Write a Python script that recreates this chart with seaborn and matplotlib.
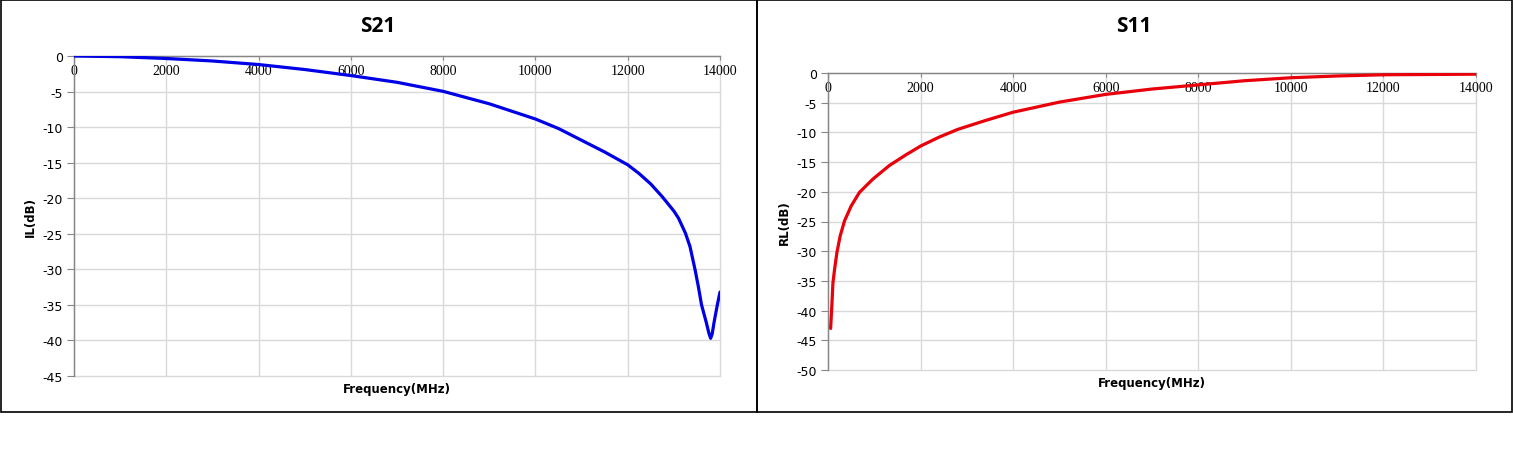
import pandas as pd
import seaborn as sns
import matplotlib.pyplot as plt
from matplotlib.patches import Rectangle

# ---------------- datos ----------------
s21_freq = [0, 1000, 2000, 3000, 4000, 5000, 6000, 7000, 8000, 9000, 10000,
            10500, 11000, 11500, 12000, 12250, 12500, 12750, 12900, 13000,
            13100, 13250, 13350, 13458, 13530, 13600, 13700, 13760, 13797,
            13830, 13870, 13942, 14000]
s21_db = [0, -0.1, -0.35, -0.7, -1.2, -1.9, -2.75, -3.7, -4.97, -6.72, -8.86,
          -10.2, -11.85, -13.5, -15.3, -16.55, -18.0, -19.8, -21.0, -21.8,
          -22.8, -24.9, -26.8, -30.0, -32.4, -35.0, -37.4, -39.0, -39.7,
          -39.1, -37.5, -35.0, -33.2]

s11_freq = [57, 86, 107, 143, 193, 264, 357, 500, 679, 964, 1321, 1679, 2000,
            2400, 2800, 3400, 4000, 5000, 6000, 7000, 8000, 9000, 10000,
            11000, 12000, 13000, 14000]
s11_db = [-43.0, -38.7, -35.3, -33.0, -30.2, -27.4, -24.9, -22.4, -20.1,
          -17.9, -15.6, -13.8, -12.3, -10.8, -9.5, -8.0, -6.6, -4.9, -3.6,
          -2.7, -2.0, -1.3, -0.8, -0.5, -0.3, -0.25, -0.2]

x_ticks = [0, 2000, 4000, 6000, 8000, 10000, 12000, 14000]

df21 = pd.DataFrame({"freq": s21_freq, "db": s21_db})
df11 = pd.DataFrame({"freq": s11_freq, "db": s11_db})

sns.set_style("white")
plt.rcParams['font.family'] = ['DejaVu Sans']
plt.rcParams['axes.unicode_minus'] = False
plt.rcParams['text.color'] = 'black'
plt.rcParams['axes.labelcolor'] = 'black'
plt.rcParams['xtick.color'] = 'black'
plt.rcParams['ytick.color'] = 'black'

W, H = 1513, 460
fig = plt.figure(figsize=(W / 100, H / 100), dpi=100)

def px_axes(x0, y0, x1, y1):
    return fig.add_axes([x0 / W, 1 - y1 / H, (x1 - x0) / W, (y1 - y0) / H])

# recuadros de cada gráfico
for bx0, bx1 in [(0.5, 756.5), (756.5, 1511.5)]:
    fig.add_artist(Rectangle((bx0 / W, 1 - 413 / H), (bx1 - bx0) / W, 412.5 / H,
                             transform=fig.transFigure, fill=False,
                             edgecolor='black', linewidth=1.2))

def estilo(ax, ymin, title, ylabel, title_x, title_y):
    ax.set_xlim(0, 14000)
    ax.set_ylim(ymin, 0)
    ax.set_xticks(x_ticks)
    ax.set_yticks(list(range(ymin, 1, 5)))
    ax.grid(True, color='#d9d9d9', linewidth=1)
    for gl in ax.get_xgridlines() + ax.get_ygridlines():
        gl.set_clip_on(False)
    for s in ['right', 'bottom']:
        ax.spines[s].set_visible(False)
    for s in ['left', 'top']:
        ax.spines[s].set_color('#868686')
        ax.spines[s].set_linewidth(1)
        ax.spines[s].set_zorder(3)
    ax.xaxis.set_ticks_position('top')
    ax.tick_params(axis='x', top=True, bottom=False, labeltop=True,
                   labelbottom=False, direction='in', length=3,
                   color='#868686', pad=-15)
    for lab in ax.get_xticklabels():
        lab.set_family('Liberation Serif')
        lab.set_fontsize(10)
    ax.tick_params(axis='y', left=True, direction='out', length=5,
                   color='#868686', labelsize=9, pad=3)
    ax.set_xlabel('Frequency(MHz)', fontsize=8.5, fontweight='bold')
    ax.xaxis.set_label_position('bottom')
    ax.xaxis.labelpad = 4
    ax.set_ylabel(ylabel, fontsize=8.5, fontweight='bold', labelpad=4)
    fig.text(title_x / W, 1 - title_y / H, title, fontsize=15,
             fontweight='bold', ha='center', va='center', family='Open Sans')

# ---------------- S21 ----------------
ax1 = px_axes(74, 57, 720, 377)
sns.lineplot(data=df21, x="freq", y="db", ax=ax1, color='#0000e6',
             linewidth=2.3, estimator=None, sort=False, zorder=4)
estilo(ax1, -45, 'S21', 'IL(dB)', 378, 27)

# ---------------- S11 ----------------
ax2 = px_axes(828, 74, 1476, 371)
sns.lineplot(data=df11, x="freq", y="db", ax=ax2, color='#e8000b',
             linewidth=2.3, estimator=None, sort=False, zorder=4)
estilo(ax2, -50, 'S11', 'RL(dB)', 1134, 26)

fig.savefig('out.png', dpi=100)
